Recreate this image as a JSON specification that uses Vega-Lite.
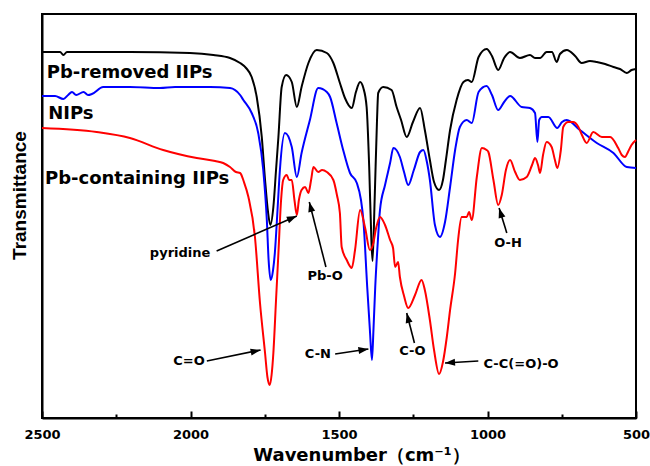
{
  "$schema": "https://vega.github.io/schema/vega-lite/v6.json",
  "width": 594,
  "height": 404,
  "autosize": {"type": "none"},
  "padding": {"left": 42, "top": 14, "right": 14, "bottom": 48},
  "background": "white",
  "config": {"view": {"stroke": "black", "strokeWidth": 2}},
  "datasets": {
    "spectra": [
      {"s":"removed","w":2500,"v":366},{"s":"removed","w":2439,"v":366},{"s":"removed","w":2428,"v":363},{"s":"removed","w":2416,"v":366},{"s":"removed","w":2204,"v":366},{"s":"removed","w":2002,"v":365},{"s":"removed","w":1923,"v":363},{"s":"removed","w":1867,"v":360},{"s":"removed","w":1833,"v":355},{"s":"removed","w":1813,"v":350},{"s":"removed","w":1794,"v":341},{"s":"removed","w":1777,"v":321},{"s":"removed","w":1760,"v":281},{"s":"removed","w":1749,"v":238},{"s":"removed","w":1739,"v":206},{"s":"removed","w":1731,"v":193},{"s":"removed","w":1721,"v":211},{"s":"removed","w":1712,"v":248},{"s":"removed","w":1704,"v":281},{"s":"removed","w":1693,"v":331},{"s":"removed","w":1678,"v":343},{"s":"removed","w":1659,"v":336},{"s":"removed","w":1642,"v":311},{"s":"removed","w":1626,"v":331},{"s":"removed","w":1603,"v":355},{"s":"removed","w":1575,"v":368},{"s":"removed","w":1541,"v":365},{"s":"removed","w":1519,"v":355},{"s":"removed","w":1497,"v":335},{"s":"removed","w":1480,"v":320},{"s":"removed","w":1457,"v":310},{"s":"removed","w":1443,"v":326},{"s":"removed","w":1429,"v":336},{"s":"removed","w":1418,"v":330},{"s":"removed","w":1407,"v":311},{"s":"removed","w":1398,"v":248},{"s":"removed","w":1391,"v":178},{"s":"removed","w":1387,"v":157},{"s":"removed","w":1380,"v":218},{"s":"removed","w":1372,"v":298},{"s":"removed","w":1368,"v":325},{"s":"removed","w":1351,"v":331},{"s":"removed","w":1323,"v":328},{"s":"removed","w":1306,"v":311},{"s":"removed","w":1291,"v":298},{"s":"removed","w":1272,"v":281},{"s":"removed","w":1251,"v":296},{"s":"removed","w":1227,"v":310},{"s":"removed","w":1211,"v":288},{"s":"removed","w":1194,"v":258},{"s":"removed","w":1180,"v":236},{"s":"removed","w":1163,"v":228},{"s":"removed","w":1150,"v":238},{"s":"removed","w":1140,"v":258},{"s":"removed","w":1126,"v":288},{"s":"removed","w":1104,"v":318},{"s":"removed","w":1081,"v":336},{"s":"removed","w":1066,"v":338},{"s":"removed","w":1053,"v":336},{"s":"removed","w":1030,"v":361},{"s":"removed","w":1003,"v":369},{"s":"removed","w":985,"v":362},{"s":"removed","w":964,"v":348},{"s":"removed","w":944,"v":360},{"s":"removed","w":924,"v":366},{"s":"removed","w":891,"v":360},{"s":"removed","w":857,"v":363},{"s":"removed","w":840,"v":360},{"s":"removed","w":823,"v":360},{"s":"removed","w":801,"v":366},{"s":"removed","w":783,"v":366},{"s":"removed","w":767,"v":356},{"s":"removed","w":756,"v":364},{"s":"removed","w":733,"v":368},{"s":"removed","w":705,"v":362},{"s":"removed","w":683,"v":355},{"s":"removed","w":655,"v":357},{"s":"removed","w":632,"v":356},{"s":"removed","w":604,"v":354},{"s":"removed","w":576,"v":351},{"s":"removed","w":554,"v":349},{"s":"removed","w":531,"v":345},{"s":"removed","w":515,"v":348},{"s":"removed","w":500,"v":349},
      {"s":"nip","w":2500,"v":322},{"s":"nip","w":2456,"v":322},{"s":"nip","w":2428,"v":319},{"s":"nip","w":2412,"v":323},{"s":"nip","w":2399,"v":326},{"s":"nip","w":2385,"v":323},{"s":"nip","w":2360,"v":326},{"s":"nip","w":2345,"v":323},{"s":"nip","w":2332,"v":324},{"s":"nip","w":2294,"v":331},{"s":"nip","w":2204,"v":331},{"s":"nip","w":2103,"v":330},{"s":"nip","w":2052,"v":331},{"s":"nip","w":1934,"v":331},{"s":"nip","w":1867,"v":330},{"s":"nip","w":1833,"v":323},{"s":"nip","w":1822,"v":318},{"s":"nip","w":1794,"v":305},{"s":"nip","w":1772,"v":285},{"s":"nip","w":1755,"v":248},{"s":"nip","w":1743,"v":198},{"s":"nip","w":1737,"v":158},{"s":"nip","w":1730,"v":138},{"s":"nip","w":1722,"v":148},{"s":"nip","w":1716,"v":165},{"s":"nip","w":1707,"v":208},{"s":"nip","w":1699,"v":248},{"s":"nip","w":1682,"v":285},{"s":"nip","w":1659,"v":271},{"s":"nip","w":1642,"v":241},{"s":"nip","w":1626,"v":265},{"s":"nip","w":1598,"v":298},{"s":"nip","w":1570,"v":330},{"s":"nip","w":1541,"v":326},{"s":"nip","w":1530,"v":321},{"s":"nip","w":1508,"v":295},{"s":"nip","w":1486,"v":268},{"s":"nip","w":1463,"v":245},{"s":"nip","w":1440,"v":235},{"s":"nip","w":1426,"v":218},{"s":"nip","w":1418,"v":198},{"s":"nip","w":1405,"v":131},{"s":"nip","w":1396,"v":88},{"s":"nip","w":1389,"v":58},{"s":"nip","w":1384,"v":88},{"s":"nip","w":1378,"v":131},{"s":"nip","w":1369,"v":178},{"s":"nip","w":1362,"v":208},{"s":"nip","w":1345,"v":233},{"s":"nip","w":1328,"v":255},{"s":"nip","w":1317,"v":270},{"s":"nip","w":1295,"v":261},{"s":"nip","w":1281,"v":246},{"s":"nip","w":1267,"v":233},{"s":"nip","w":1248,"v":248},{"s":"nip","w":1227,"v":266},{"s":"nip","w":1216,"v":268},{"s":"nip","w":1204,"v":256},{"s":"nip","w":1194,"v":238},{"s":"nip","w":1177,"v":193},{"s":"nip","w":1160,"v":181},{"s":"nip","w":1143,"v":196},{"s":"nip","w":1126,"v":231},{"s":"nip","w":1109,"v":268},{"s":"nip","w":1093,"v":291},{"s":"nip","w":1070,"v":298},{"s":"nip","w":1053,"v":295},{"s":"nip","w":1030,"v":326},{"s":"nip","w":1003,"v":332},{"s":"nip","w":985,"v":323},{"s":"nip","w":964,"v":308},{"s":"nip","w":944,"v":316},{"s":"nip","w":924,"v":322},{"s":"nip","w":885,"v":311},{"s":"nip","w":857,"v":310},{"s":"nip","w":840,"v":305},{"s":"nip","w":832,"v":276},{"s":"nip","w":826,"v":298},{"s":"nip","w":817,"v":301},{"s":"nip","w":795,"v":301},{"s":"nip","w":765,"v":290},{"s":"nip","w":749,"v":296},{"s":"nip","w":733,"v":298},{"s":"nip","w":689,"v":288},{"s":"nip","w":632,"v":275},{"s":"nip","w":576,"v":265},{"s":"nip","w":531,"v":251},{"s":"nip","w":500,"v":250},
      {"s":"containing","w":2500,"v":290},{"s":"containing","w":2316,"v":286},{"s":"containing","w":2204,"v":280},{"s":"containing","w":2092,"v":268},{"s":"containing","w":1979,"v":260},{"s":"containing","w":1917,"v":257},{"s":"containing","w":1890,"v":255},{"s":"containing","w":1867,"v":251},{"s":"containing","w":1847,"v":246},{"s":"containing","w":1833,"v":245},{"s":"containing","w":1820,"v":236},{"s":"containing","w":1805,"v":221},{"s":"containing","w":1783,"v":181},{"s":"containing","w":1766,"v":115},{"s":"containing","w":1749,"v":65},{"s":"containing","w":1741,"v":41},{"s":"containing","w":1733,"v":33},{"s":"containing","w":1727,"v":43},{"s":"containing","w":1721,"v":65},{"s":"containing","w":1712,"v":118},{"s":"containing","w":1704,"v":165},{"s":"containing","w":1695,"v":218},{"s":"containing","w":1688,"v":238},{"s":"containing","w":1676,"v":243},{"s":"containing","w":1668,"v":238},{"s":"containing","w":1659,"v":238},{"s":"containing","w":1650,"v":218},{"s":"containing","w":1642,"v":203},{"s":"containing","w":1635,"v":218},{"s":"containing","w":1626,"v":228},{"s":"containing","w":1614,"v":231},{"s":"containing","w":1603,"v":225},{"s":"containing","w":1594,"v":238},{"s":"containing","w":1586,"v":251},{"s":"containing","w":1570,"v":246},{"s":"containing","w":1557,"v":248},{"s":"containing","w":1541,"v":246},{"s":"containing","w":1519,"v":238},{"s":"containing","w":1507,"v":223},{"s":"containing","w":1497,"v":205},{"s":"containing","w":1491,"v":171},{"s":"containing","w":1474,"v":158},{"s":"containing","w":1457,"v":150},{"s":"containing","w":1446,"v":168},{"s":"containing","w":1429,"v":208},{"s":"containing","w":1412,"v":190},{"s":"containing","w":1396,"v":168},{"s":"containing","w":1386,"v":173},{"s":"containing","w":1375,"v":190},{"s":"containing","w":1362,"v":201},{"s":"containing","w":1345,"v":193},{"s":"containing","w":1328,"v":178},{"s":"containing","w":1318,"v":170},{"s":"containing","w":1311,"v":151},{"s":"containing","w":1301,"v":156},{"s":"containing","w":1295,"v":141},{"s":"containing","w":1281,"v":122},{"s":"containing","w":1267,"v":110},{"s":"containing","w":1244,"v":123},{"s":"containing","w":1222,"v":138},{"s":"containing","w":1211,"v":128},{"s":"containing","w":1194,"v":98},{"s":"containing","w":1180,"v":68},{"s":"containing","w":1163,"v":44},{"s":"containing","w":1150,"v":56},{"s":"containing","w":1137,"v":81},{"s":"containing","w":1126,"v":108},{"s":"containing","w":1109,"v":145},{"s":"containing","w":1099,"v":178},{"s":"containing","w":1087,"v":201},{"s":"containing","w":1070,"v":201},{"s":"containing","w":1062,"v":206},{"s":"containing","w":1053,"v":198},{"s":"containing","w":1036,"v":241},{"s":"containing","w":1019,"v":270},{"s":"containing","w":1003,"v":268},{"s":"containing","w":997,"v":266},{"s":"containing","w":980,"v":238},{"s":"containing","w":964,"v":213},{"s":"containing","w":952,"v":223},{"s":"containing","w":938,"v":248},{"s":"containing","w":924,"v":258},{"s":"containing","w":907,"v":246},{"s":"containing","w":891,"v":238},{"s":"containing","w":868,"v":241},{"s":"containing","w":850,"v":253},{"s":"containing","w":840,"v":260},{"s":"containing","w":830,"v":253},{"s":"containing","w":823,"v":245},{"s":"containing","w":813,"v":263},{"s":"containing","w":801,"v":276},{"s":"containing","w":784,"v":271},{"s":"containing","w":773,"v":258},{"s":"containing","w":765,"v":250},{"s":"containing","w":753,"v":268},{"s":"containing","w":745,"v":291},{"s":"containing","w":728,"v":296},{"s":"containing","w":712,"v":296},{"s":"containing","w":694,"v":291},{"s":"containing","w":682,"v":283},{"s":"containing","w":666,"v":275},{"s":"containing","w":644,"v":286},{"s":"containing","w":615,"v":281},{"s":"containing","w":587,"v":281},{"s":"containing","w":560,"v":270},{"s":"containing","w":548,"v":263},{"s":"containing","w":537,"v":261},{"s":"containing","w":527,"v":266},{"s":"containing","w":515,"v":273},{"s":"containing","w":500,"v":278}
    ],
    "names": [
      {"label":"Pb-removed IIPs","w":2484,"v":340},
      {"label":"NIPs","w":2479,"v":299},
      {"label":"Pb-containing IIPs","w":2490,"v":234}
    ],
    "notes": [
      {"label":"pyridine","tw":2035,"tv":165,"sw":1912,"sv":167,"hw":1642,"hv":202,"angle":67},
      {"label":"C=O","tw":2005,"tv":57,"sw":1945,"sv":57,"hw":1764,"hv":68,"angle":78},
      {"label":"Pb-O","tw":1547,"tv":142,"sw":1544,"sv":151,"hw":1600,"hv":216,"angle":346},
      {"label":"C-N","tw":1571,"tv":64,"sw":1513,"sv":64,"hw":1401,"hv":69,"angle":81},
      {"label":"C-O","tw":1253,"tv":67,"sw":1246,"sv":75,"hw":1272,"hv":105,"angle":346},
      {"label":"C-C(=O)-O","tw":887,"tv":54,"sw":1031,"sv":57,"hw":1143,"hv":55,"angle":266},
      {"label":"O-H","tw":931,"tv":175,"sw":935,"sv":185,"hw":961,"hv":210,"angle":343}
    ]
  },
  "layer": [
    {
      "data": {"name": "spectra"},
      "mark": {"type": "line", "strokeWidth": 2, "interpolate": "monotone"},
      "encoding": {
        "x": {"field": "w", "type": "quantitative",
          "scale": {"domain": [500, 2500], "reverse": true, "nice": false, "zero": false},
          "axis": {
            "title": "Wavenumber（cm⁻¹）",
            "values": [2500, 2250, 2000, 1750, 1500, 1250, 1000, 750, 500],
            "format": "d",
            "labelExpr": "datum.value % 500 === 0 ? datum.label : ''",
            "labelFlush": false, "labelOverlap": false,
            "grid": false,
            "ticks": true,
            "tickSize": {"condition": {"test": "datum.value % 500 === 0", "value": -7}, "value": -4},
            "tickColor": "black", "tickWidth": 2,
            "domainColor": "black", "domainWidth": 2,
            "labelFont": "DejaVu Sans", "labelFontWeight": "bold", "labelFontSize": 13, "labelColor": "black",
            "labelBaseline": "alphabetic", "labelPadding": 27,
            "titleFont": "DejaVu Sans", "titleFontWeight": "bold", "titleFontSize": 18, "titleColor": "black",
            "titleX": 319, "titleY": 42, "titleBaseline": "alphabetic", "titleAlign": "center"
          }
        },
        "y": {"field": "v", "type": "quantitative",
          "scale": {"domain": [0, 404], "nice": false, "zero": false},
          "axis": {
            "title": "Transmittance",
            "ticks": false, "labels": false, "grid": false,
            "domainColor": "black", "domainWidth": 2,
            "titleFont": "Liberation Sans", "titleFontWeight": "bold", "titleFontSize": 19, "titleColor": "black",
            "titleX": -17, "titleY": 181, "titleBaseline": "alphabetic", "titleAlign": "center", "titleAngle": -90
          }
        },
        "color": {"field": "s", "type": "nominal",
          "scale": {"domain": ["removed", "nip", "containing"], "range": ["#000000", "#0000ff", "#ff0000"]},
          "legend": null},
        "order": {"field": "w", "type": "quantitative", "sort": "descending"}
      }
    },
    {
      "data": {"name": "names"},
      "mark": {"type": "text", "align": "left", "baseline": "alphabetic", "font": "DejaVu Sans", "fontWeight": "bold", "fontSize": 18, "color": "black"},
      "encoding": {
        "x": {"field": "w", "type": "quantitative"},
        "y": {"field": "v", "type": "quantitative"},
        "text": {"field": "label"}
      }
    },
    {
      "data": {"name": "notes"},
      "mark": {"type": "rule", "strokeWidth": 1.6, "color": "black"},
      "encoding": {
        "x": {"field": "sw", "type": "quantitative"},
        "y": {"field": "sv", "type": "quantitative"},
        "x2": {"field": "hw"},
        "y2": {"field": "hv"}
      }
    },
    {
      "data": {"name": "notes"},
      "mark": {"type": "point", "shape": "M0,0L-0.7,2L0.7,2Z", "filled": true, "size": 100, "color": "black", "opacity": 1, "strokeWidth": 0},
      "encoding": {
        "x": {"field": "hw", "type": "quantitative"},
        "y": {"field": "hv", "type": "quantitative"},
        "angle": {"field": "angle", "type": "quantitative", "scale": null}
      }
    },
    {
      "data": {"name": "notes"},
      "mark": {"type": "text", "align": "center", "baseline": "middle", "font": "DejaVu Sans", "fontWeight": "bold", "fontSize": 13, "color": "black"},
      "encoding": {
        "x": {"field": "tw", "type": "quantitative"},
        "y": {"field": "tv", "type": "quantitative"},
        "text": {"field": "label"}
      }
    }
  ]
}
